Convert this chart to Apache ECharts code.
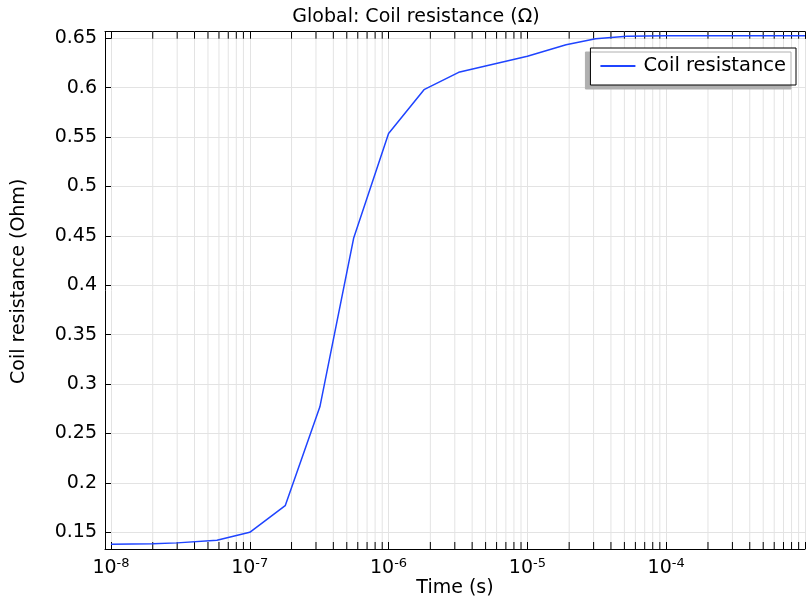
<!DOCTYPE html>
<html>
<head>
<meta charset="utf-8">
<script src="https://cdn.jsdelivr.net/npm/echarts@6/dist/echarts.min.js"></script>
<style>html,body{margin:0;padding:0;background:#fff}#c{width:806px;height:598px}</style>
</head>
<body>
<div id="c"></div>
<script>
// Data
const timeValues = [1e-8, 2e-8, 3e-8, 5.8e-8, 1e-7, 1.8e-7, 3.2e-7, 5.6e-7, 1e-6, 1.8e-6, 3.2e-6, 1e-5, 1.9e-5, 3.1e-5, 5.2e-5, 1e-4, 1.8e-4, 3.2e-4, 5.6e-4, 1e-3];
const resistanceValues = [0.1379, 0.1383, 0.1393, 0.1420, 0.1500, 0.1770, 0.2770, 0.4476, 0.5536, 0.5980, 0.6156, 0.6318, 0.6435, 0.6496, 0.6522, 0.6525, 0.6525, 0.6525, 0.6525, 0.6525];
const seriesName = 'Coil resistance';
const titleText = 'Global: Coil resistance (\u03A9)';
const xAxisName = 'Time (s)';
const yAxisName = 'Coil resistance (Ohm)';
const xMin = 9.06e-9, xMax = 1e-3;
const yMin = 0.1331, yMax = 0.6567;
const xLabelExponents = [-8, -7, -6, -5, -4];
const minorMultipliers = [2, 3, 4, 5, 6, 7, 8, 9];
const decadeExponents = [-9, -8, -7, -6, -5, -4];

const minorTicks = [];
decadeExponents.forEach(e => minorMultipliers.forEach(m => {
  const v = m * Math.pow(10, e);
  if (v > xMin && v < xMax) minorTicks.push([v, yMin]);
}));

const FONT = 'DejaVu Sans';
const GRID = '#e3e3e3';
const chart = echarts.init(document.getElementById('c'), null, {renderer: 'canvas'});

chart.setOption({
  animation: false,
  textStyle: {fontFamily: FONT},
  title: {
    text: titleText, left: 411, top: 3, textAlign: 'center',
    textStyle: {fontFamily: FONT, fontSize: 19, fontWeight: 'normal', color: '#000'}
  },
  grid: {left: 105, right: 1, top: 31.7, bottom: 49, containLabel: false, outerBoundsMode: 'none'},
  legend: {
    data: [{name: seriesName, itemStyle: {opacity: 0}}], right: 10, top: 48,
    padding: [8, 10, 9, 9],
    itemWidth: 35, itemHeight: 14,
    backgroundColor: '#fff', borderColor: '#000', borderWidth: 1,
    shadowColor: '#b0b0b0', shadowBlur: 0, shadowOffsetX: -5, shadowOffsetY: 4,
    textStyle: {fontFamily: FONT, fontSize: 19.5, color: '#000', padding: [0, 0, 0, 3]}
  },
  xAxis: [{
    type: 'log', logBase: 10, min: xMin, max: xMax,
    name: xAxisName, nameLocation: 'middle', nameGap: 30, nameMoveOverlap: false,
    nameTextStyle: {fontFamily: FONT, fontSize: 19, color: '#000'},
    axisLine: {onZero: false, lineStyle: {color: '#000', width: 1}},
    axisTick: {inside: true, length: 7, lineStyle: {color: '#000'}},
    axisLabel: {
      showMinLabel: false, showMaxLabel: false, margin: 8,
      formatter: v => {
        const e = Math.round(Math.log10(v));
        if (xLabelExponents.indexOf(e) < 0 || Math.abs(Math.log10(v) - e) > 1e-6) return '';
        return '{b|10}{s|' + e + '}';
      },
      rich: {
        b: {fontFamily: FONT, fontSize: 19, color: '#000'},
        s: {fontFamily: FONT, fontSize: 13, color: '#000', padding: [0, 0, 9, 0]}
      }
    },
    splitLine: {show: true, lineStyle: {color: GRID, width: 1}}
  }, {
    type: 'log', logBase: 10, min: xMin, max: xMax, position: 'top',
    axisLine: {onZero: false, lineStyle: {color: '#000', width: 1}},
    axisTick: {inside: true, length: 7, lineStyle: {color: '#000'}},
    axisLabel: {show: false}, splitLine: {show: false}
  }],
  yAxis: {
    type: 'value', min: yMin, max: yMax, splitNumber: 10,
    name: yAxisName, nameLocation: 'middle', nameGap: 76, nameMoveOverlap: false,
    nameTextStyle: {fontFamily: FONT, fontSize: 19, color: '#000', padding: [0, 0, 0, 18]},
    axisLine: {show: true, lineStyle: {color: '#000', width: 1}},
    axisTick: {inside: true, length: 6, lineStyle: {color: '#000'}},
    axisLabel: {showMinLabel: false, showMaxLabel: false, margin: 8, fontFamily: FONT, fontSize: 19, color: '#000'},
    splitLine: {show: true, lineStyle: {color: GRID, width: 1}}
  },
  series: [{
    type: 'custom', xAxisIndex: 0, yAxisIndex: 0, silent: true, z: 1,
    data: minorTicks,
    renderItem: (params, api) => {
      const cs = params.coordSys;
      const x = api.coord([api.value(0), api.value(1)])[0];
      const top = cs.y, bottom = cs.y + cs.height;
      return {
        type: 'group',
        children: [
          {type: 'line', shape: {x1: x, y1: top, x2: x, y2: bottom}, style: {stroke: GRID, lineWidth: 1}},
          {type: 'line', shape: {x1: x, y1: bottom, x2: x, y2: bottom - 7}, style: {stroke: '#000', lineWidth: 1}},
          {type: 'line', shape: {x1: x, y1: top, x2: x, y2: top + 7}, style: {stroke: '#000', lineWidth: 1}}
        ]
      };
    }
  }, {
    name: seriesName, type: 'line', xAxisIndex: 0, yAxisIndex: 0, z: 5,
    data: timeValues.map((t, i) => [t, resistanceValues[i]]),
    symbol: 'none', showSymbol: false,
    lineStyle: {color: '#1f44ff', width: 1.5},
    itemStyle: {color: '#1f44ff'}
  }]
});
</script>
</body>
</html>
